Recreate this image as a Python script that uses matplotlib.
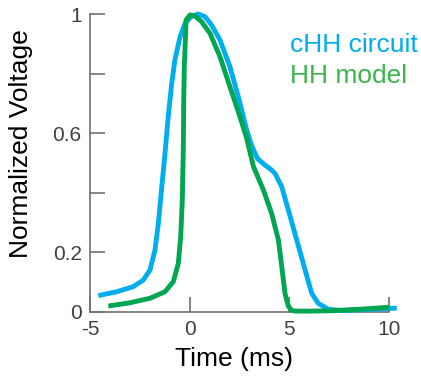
import matplotlib.pyplot as plt

plt.rcParams['font.family'] = ['Liberation Sans', 'DejaVu Sans']
plt.rcParams['axes.unicode_minus'] = False

# cHH circuit (blue)
chh_t = [-4.58, -3.66, -2.83, -2.33, -1.99, -1.74, -1.57, -1.4, -1.24, -1.07, -0.9, -0.74,
         -0.48, -0.23, 0.1, 0.43, 0.77, 1.1, 1.52, 2.02, 2.45, 2.86, 3.1, 3.4, 3.78, 4.05,
         4.28, 4.62, 4.95, 5.37, 5.79, 6.12, 6.45, 6.96, 7.6, 8.5, 9.5, 10.0, 10.39]
chh_v = [0.055, 0.068, 0.085, 0.107, 0.141, 0.208, 0.298, 0.42, 0.53, 0.66, 0.767, 0.846,
         0.924, 0.969, 0.993, 1.0, 0.991, 0.963, 0.913, 0.823, 0.72, 0.611, 0.56, 0.515,
         0.493, 0.48, 0.465, 0.42, 0.342, 0.242, 0.141, 0.063, 0.029, 0.009, 0.005, 0.007,
         0.01, 0.012, 0.013]

# HH model (green)
hh_t = [-4.08, -2.99, -1.99, -1.24, -0.82, -0.57, -0.45, -0.37, -0.32, -0.3, -0.27, -0.18,
        0.02, 0.27, 0.6, 1.02, 1.52, 2.02, 2.5, 2.85, 3.2, 3.7, 4.11, 4.45, 4.62, 4.78,
        4.95, 5.1, 5.29, 6.0, 7.0, 8.5, 10.0]
hh_v = [0.02, 0.031, 0.046, 0.068, 0.102, 0.163, 0.253, 0.376, 0.544, 0.7, 0.823, 0.98,
        0.997, 0.993, 0.974, 0.935, 0.857, 0.756, 0.66, 0.585, 0.488, 0.409, 0.331, 0.242,
        0.152, 0.063, 0.02, 0.006, 0.003, 0.003, 0.004, 0.009, 0.016]

legend_labels = ['cHH circuit', 'HH model']
colors = ['#00AEEF', '#00A651']
text_colors = ['#00AEEF', '#39B54A']

fig = plt.figure(figsize=(4.21, 3.79), dpi=100)
ax = fig.add_axes([0.2138, 0.1768, 0.7102, 0.7862])

ax.plot(chh_t, chh_v, color=colors[0], lw=3.5, clip_on=False, solid_joinstyle='round',
        solid_capstyle='butt', zorder=3)
ax.plot(hh_t, hh_v, color=colors[1], lw=3.5, clip_on=False, solid_joinstyle='round',
        solid_capstyle='butt', zorder=4)

ax.set_xlim(-5, 10)
ax.set_ylim(0, 1)
ax.set_xticks([-5, 0, 5, 10])
ax.set_yticks([0, 0.2, 0.4, 0.6, 0.8, 1])
ax.set_yticklabels(['0', '0.2', '', '0.6', '', '1'])

for s in ['top', 'right']:
    ax.spines[s].set_visible(False)
for s in ['left', 'bottom']:
    ax.spines[s].set_color('#707070')
    ax.spines[s].set_linewidth(1.2)

ax.tick_params(direction='in', length=11, width=1.2, color='#707070',
               labelsize=15, labelcolor='#404040', pad=6)

ax.set_xlabel('Time (ms)', fontsize=19)
ax.xaxis.set_label_coords(0.482, -0.118)
ax.set_ylabel('Normalized Voltage', fontsize=19)
ax.yaxis.set_label_coords(-0.19, 0.564)

ax.text(0.669, 0.896, legend_labels[0], transform=ax.transAxes, color=text_colors[0],
        fontsize=19, ha='left', va='center')
ax.text(0.669, 0.792, legend_labels[1], transform=ax.transAxes, color=text_colors[1],
        fontsize=19, ha='left', va='center')

fig.savefig('out.png', dpi=100)
